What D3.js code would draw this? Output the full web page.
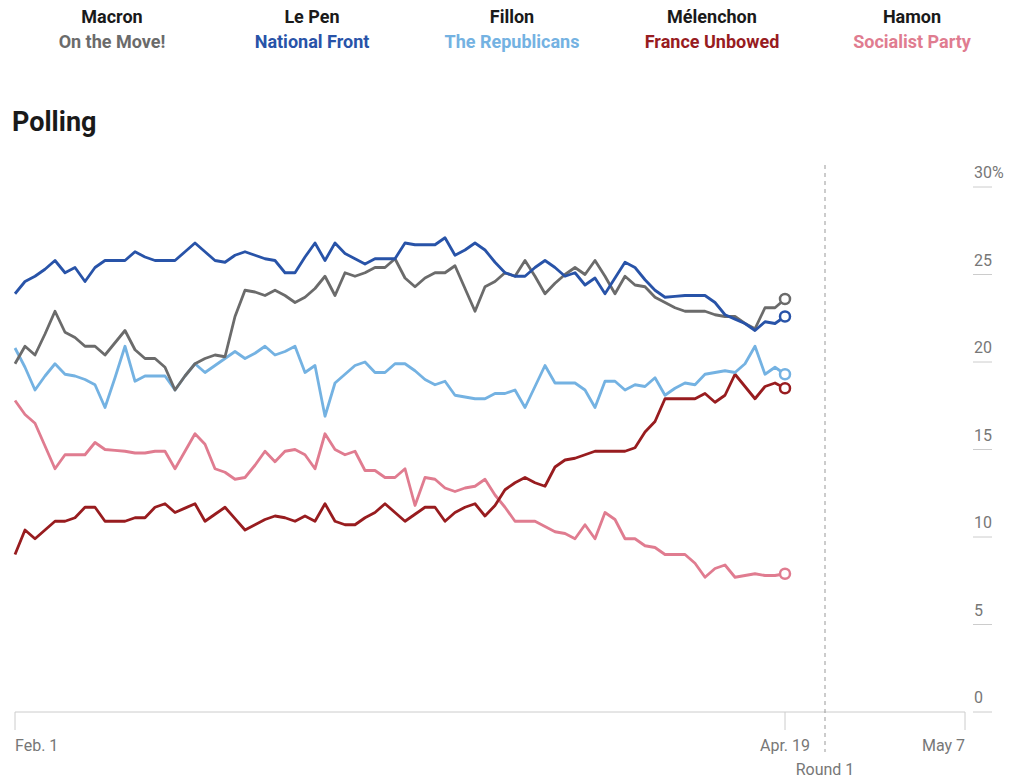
<!DOCTYPE html>
<html>
<head>
<meta charset="utf-8">
<script src="https://cdn.jsdelivr.net/npm/d3@7"></script>
<style>
  body { margin: 0; background: #fff; }
  svg { display: block; }
  .cand { font-family: "Liberation Sans Narrow", "Roboto", sans-serif; font-weight: bold; font-size: 18px; }
  .title { font-family: "Roboto", "Liberation Sans", sans-serif; font-weight: bold; font-size: 27px; fill: #1a1a1a; }
  .tick-label { font-family: "Roboto", "Liberation Sans", sans-serif; font-size: 16px; fill: #777; }
</style>
</head>
<body>
<svg width="1010" height="780"></svg>
<script>
const svg = d3.select("svg"),
      width = +svg.attr("width"),
      height = +svg.attr("height");

// candidates / parties / colours
const candidates = ["Macron", "Le Pen", "Fillon", "Mélenchon", "Hamon"];
const parties = ["On the Move!", "National Front", "The Republicans", "France Unbowed", "Socialist Party"];
const colors = ["#6b6b6b", "#2853a8", "#74b2e2", "#981c1f", "#e07c90"];

// daily polling average from Feb. 1 to Apr. 19, 2017
const startDate = new Date(2017, 1, 1);
const macron = [19.9, 20.9, 20.4, 21.6, 22.9, 21.7, 21.4, 20.9, 20.9, 20.4, 21.1, 21.8, 20.7, 20.2, 20.2, 19.7, 18.4, 19.2, 19.9, 20.2,
  20.4, 20.3, 22.6, 24.1, 24.0, 23.8, 24.1, 23.8, 23.4, 23.7, 24.2, 24.9, 23.8, 25.1, 24.9, 25.1, 25.4, 25.4, 25.9, 24.8,
  24.3, 24.8, 25.1, 25.1, 25.5, 24.2, 22.9, 24.3, 24.6, 25.1, 24.9, 25.8, 24.9, 23.9, 24.5, 25.0, 25.4, 25.0, 25.8, 24.9,
  23.9, 24.9, 24.4, 24.3, 23.7, 23.4, 23.1, 22.9, 22.9, 22.9, 22.7, 22.6, 22.6, 22.2, 21.9, 23.1, 23.1, 23.6];
const lePen = [23.9, 24.6, 24.9, 25.3, 25.8, 25.1, 25.4, 24.6, 25.4, 25.8, 25.8, 25.8, 26.3, 26.0, 25.8, 25.8, 25.8, 26.3, 26.8, 26.3,
  25.8, 25.7, 26.1, 26.3, 26.1, 25.9, 25.8, 25.1, 25.1, 26.0, 26.8, 25.8, 26.8, 26.2, 25.9, 25.6, 25.9, 25.9, 25.9, 26.8,
  26.7, 26.7, 26.7, 27.1, 26.1, 26.4, 26.8, 26.4, 25.7, 25.1, 24.9, 24.9, 25.4, 25.8, 25.4, 24.9, 25.1, 24.4, 24.8, 23.9,
  24.8, 25.7, 25.4, 24.7, 24.1, 23.7, 23.75, 23.8, 23.8, 23.8, 23.4, 22.7, 22.45, 22.2, 21.8, 22.3, 22.2, 22.6];
const fillon = [20.8, 19.7, 18.4, 19.2, 19.9, 19.3, 19.2, 19.0, 18.7, 17.4, 19.1, 20.9, 18.9, 19.2, 19.2, 19.2, 18.4, 19.2, 19.9, 19.4,
  19.8, 20.2, 20.6, 20.2, 20.5, 20.9, 20.4, 20.6, 20.9, 19.4, 19.8, 16.9, 18.8, 19.3, 19.8, 20.0, 19.4, 19.4, 19.9, 19.9,
  19.5, 19.0, 18.7, 18.9, 18.1, 18.0, 17.9, 17.9, 18.2, 18.2, 18.4, 17.4, 18.6, 19.8, 18.8, 18.8, 18.8, 18.4, 17.4, 18.9,
  18.9, 18.4, 18.7, 18.6, 19.1, 18.1, 18.5, 18.8, 18.7, 19.3, 19.4, 19.5, 19.4, 19.9, 20.9, 19.3, 19.7, 19.3];
const melenchon = [9.0, 10.4, 9.9, 10.4, 10.9, 10.9, 11.1, 11.7, 11.7, 10.9, 10.9, 10.9, 11.1, 11.1, 11.7, 11.9, 11.4, 11.65, 11.9, 10.9,
  11.3, 11.7, 11.05, 10.4, 10.7, 11.0, 11.2, 11.1, 10.9, 11.2, 10.9, 11.9, 10.9, 10.7, 10.7, 11.1, 11.4, 11.9, 11.4, 10.9,
  11.3, 11.7, 11.7, 10.9, 11.4, 11.7, 11.9, 11.2, 11.8, 12.7, 13.1, 13.4, 13.1, 12.9, 14.0, 14.4, 14.5, 14.7, 14.9, 14.9,
  14.9, 14.9, 15.1, 16.0, 16.6, 17.9, 17.9, 17.9, 17.9, 18.2, 17.7, 18.1, 19.3, 18.6, 17.9, 18.6, 18.8, 18.5];
const hamon = [17.8, 17.0, 16.5, 15.2, 13.9, 14.7, 14.7, 14.7, 15.4, 15.0, 14.95, 14.9, 14.8, 14.8, 14.9, 14.9, 13.9, 14.9, 15.9, 15.3,
  13.9, 13.7, 13.3, 13.4, 14.1, 14.9, 14.3, 14.9, 15.0, 14.7, 13.9, 15.9, 15.0, 14.7, 14.9, 13.8, 13.8, 13.4, 13.4, 13.9,
  11.8, 13.4, 13.3, 12.8, 12.6, 12.8, 12.9, 13.3, 12.4, 11.7, 10.9, 10.9, 10.9, 10.6, 10.3, 10.2, 9.9, 10.7, 9.9, 11.4,
  11.0, 9.9, 9.9, 9.5, 9.4, 9.0, 9.0, 9.0, 8.5, 7.7, 8.2, 8.4, 7.7, 7.8, 7.9, 7.8, 7.8, 7.9];

const yTicks = [0, 5, 10, 15, 20, 25, 30];
const xTickDates = [new Date(2017, 1, 1), new Date(2017, 3, 19), new Date(2017, 4, 7)];
const xTickLabels = ["Feb. 1", "Apr. 19", "May 7"];
const roundDate = new Date(2017, 3, 23);
const roundLabel = "Round 1";

const series = [
  { name: "Hamon", values: hamon, color: colors[4] },
  { name: "Mélenchon", values: melenchon, color: colors[3] },
  { name: "Fillon", values: fillon, color: colors[2] },
  { name: "Macron", values: macron, color: colors[0] },
  { name: "Le Pen", values: lePen, color: colors[1] }
];

const x = d3.scaleTime()
  .domain([new Date(2017, 1, 1), new Date(2017, 4, 7)])
  .range([15, 965]);
const y = d3.scaleLinear().domain([0, 30]).range([712, 187]);

// header
const header = svg.append("g");
candidates.forEach((c, i) => {
  const cx = 112 + i * 200;
  header.append("text").attr("class", "cand").attr("x", cx).attr("y", 23)
    .attr("text-anchor", "middle").attr("fill", "#1a1a1a").text(c);
  header.append("text").attr("class", "cand").attr("x", cx).attr("y", 48)
    .attr("text-anchor", "middle").attr("fill", colors[i]).text(parties[i]);
});

svg.append("text").attr("class", "title").attr("x", 12).attr("y", 131).text("Polling");

// y axis on the right
const yAxis = svg.append("g");
yTicks.forEach(t => {
  yAxis.append("line")
    .attr("x1", 973).attr("x2", 992)
    .attr("y1", y(t)).attr("y2", y(t))
    .attr("stroke", "#ccc").attr("stroke-width", 1);
  yAxis.append("text").attr("class", "tick-label")
    .attr("x", 974).attr("y", y(t) - 9)
    .text(t === 30 ? "30%" : t);
});

// x axis
const xAxis = svg.append("g");
xAxis.append("line")
  .attr("x1", x.range()[0]).attr("x2", x.range()[1])
  .attr("y1", 712).attr("y2", 712)
  .attr("stroke", "#ccc");
xTickDates.forEach((d, i) => {
  xAxis.append("line")
    .attr("x1", x(d)).attr("x2", x(d))
    .attr("y1", 712).attr("y2", 730)
    .attr("stroke", "#ccc");
  xAxis.append("text").attr("class", "tick-label")
    .attr("x", x(d)).attr("y", 751)
    .attr("text-anchor", i === 0 ? "start" : i === 2 ? "end" : "middle")
    .attr("fill", "#666")
    .text(xTickLabels[i]);
});

// round 1 marker
svg.append("line")
  .attr("x1", x(roundDate)).attr("x2", x(roundDate))
  .attr("y1", 165).attr("y2", 752)
  .attr("stroke", "#999").attr("stroke-dasharray", "4,4");
svg.append("text").attr("class", "tick-label")
  .attr("x", x(roundDate)).attr("y", 775)
  .attr("text-anchor", "middle")
  .text(roundLabel);

// lines
const line = d3.line()
  .x((d, i) => x(d3.timeDay.offset(startDate, i)))
  .y(d => y(d));

const lines = svg.append("g");
series.forEach(s => {
  lines.append("path")
    .attr("d", line(s.values))
    .attr("fill", "none")
    .attr("stroke", s.color)
    .attr("stroke-width", 2.8)
    .attr("stroke-linejoin", "round");
});
series.forEach(s => {
  const last = s.values.length - 1;
  lines.append("circle")
    .attr("cx", x(d3.timeDay.offset(startDate, last)))
    .attr("cy", y(s.values[last]))
    .attr("r", 5)
    .attr("fill", "#fff")
    .attr("stroke", s.color)
    .attr("stroke-width", 2.5);
});
</script>
</body>
</html>
